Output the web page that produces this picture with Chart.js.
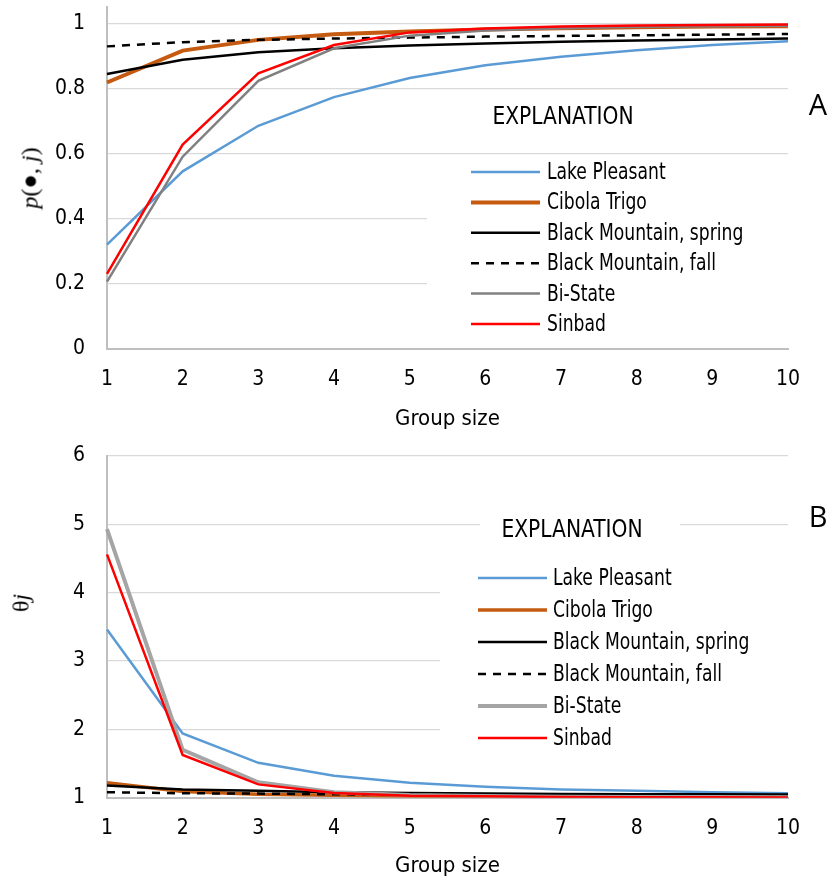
<!DOCTYPE html>
<html>
<head>
<meta charset="utf-8">
<title>Group size</title>
<script src="https://cdn.jsdelivr.net/npm/chart.js@4"></script>
<style>
    body { margin: 0; background: #fff; }
    #wrap { position: relative; width: 832px; height: 884px; }
    canvas { position: absolute; left: 0; }
    .y-title {
        position: absolute;
        transform: translate(-50%, -50%) rotate(-90deg);
        white-space: nowrap;
        font-family: 'Liberation Serif', 'DejaVu Serif', serif;
        font-size: 24px;
        color: #000;
    }
    .y-title i { font-style: italic; }
    .panel {
        position: absolute;
        transform: translate(-50%, -50%);
        font-family: 'Open Sans', 'Noto Sans', sans-serif;
        font-size: 29px;
        color: #000;
    }
</style>
</head>
<body>
<div id="wrap">
    <canvas id="chartA" width="832" height="442" style="top:0"></canvas>
    <canvas id="chartB" width="832" height="442" style="top:442px"></canvas>
    <div class="y-title" style="left:30px; top:178px"><i>p</i>(●, <i>j</i>)</div>
    <div class="y-title" style="left:21px; top:603px">θ<i>j</i></div>
    <div class="panel" style="left:818px; top:103px">A</div>
    <div class="panel" style="left:818px; top:515px">B</div>
</div>
<script>
const groupSizes = ['1', '2', '3', '4', '5', '6', '7', '8', '9', '10'];
const siteNames = ['Lake Pleasant', 'Cibola Trigo', 'Black Mountain, spring', 'Black Mountain, fall', 'Bi-State', 'Sinbad'];

// p(., j) by group size
const pLakePleasant = [0.32, 0.545, 0.685, 0.773, 0.832, 0.871, 0.897, 0.917, 0.933, 0.945];
const pCibolaTrigo = [0.818, 0.916, 0.949, 0.966, 0.975, 0.981, 0.985, 0.988, 0.990, 0.991];
const pBlackMtnSpring = [0.844, 0.888, 0.911, 0.923, 0.932, 0.938, 0.943, 0.947, 0.950, 0.953];
const pBlackMtnFall = [0.929, 0.942, 0.949, 0.953, 0.956, 0.959, 0.961, 0.963, 0.965, 0.967];
const pBiState = [0.206, 0.590, 0.823, 0.923, 0.962, 0.978, 0.985, 0.989, 0.991, 0.992];
const pSinbad = [0.230, 0.627, 0.846, 0.933, 0.972, 0.984, 0.990, 0.993, 0.995, 0.996];

// theta j by group size
const thetaLakePleasant = [3.46, 1.94, 1.51, 1.32, 1.22, 1.16, 1.12, 1.10, 1.08, 1.065];
const thetaCibolaTrigo = [1.22, 1.09, 1.05, 1.035, 1.025, 1.02, 1.015, 1.012, 1.01, 1.009];
const thetaBlackMtnSpring = [1.18, 1.12, 1.10, 1.08, 1.07, 1.06, 1.055, 1.05, 1.05, 1.045];
const thetaBlackMtnFall = [1.08, 1.065, 1.06, 1.05, 1.045, 1.04, 1.035, 1.035, 1.03, 1.03];
const thetaBiState = [4.93, 1.70, 1.225, 1.08, 1.04, 1.025, 1.015, 1.01, 1.01, 1.008];
const thetaSinbad = [4.56, 1.625, 1.195, 1.07, 1.03, 1.02, 1.01, 1.007, 1.005, 1.004];

const yTicksA = [0, 0.2, 0.4, 0.6, 0.8, 1];
const yTicksB = [1, 2, 3, 4, 5, 6];

const narrowFont = "'Liberation Sans Narrow', 'DejaVu Sans Condensed', Roboto, sans-serif";
const gridGrey = '#d9d9d9';
const axisGrey = '#bfbfbf';

// line styles per site: colour, width, dash
function siteStyles(panel) {
    return [
        { color: '#5b9bd5', width: 2.5, dash: [] },
        { color: '#c55a11', width: panel === 'A' ? 4 : 3.5, dash: [] },
        { color: '#000000', width: 2.5, dash: [] },
        { color: '#000000', width: 2.5, dash: [8, 7] },
        { color: panel === 'A' ? '#808080' : '#a5a5a5', width: panel === 'A' ? 2.5 : 4, dash: [] },
        { color: '#ff0000', width: 2.5, dash: [] }
    ];
}

function buildDatasets(series, panel) {
    const styles = siteStyles(panel);
    return series.map((values, i) => ({
        label: siteNames[i],
        data: values,
        borderColor: styles[i].color,
        backgroundColor: styles[i].color,
        borderWidth: styles[i].width,
        borderDash: styles[i].dash,
        pointRadius: 0,
        tension: 0,
        fill: false,
        // later series drawn on top
        order: series.length - 1 - i
    }));
}

// text squeezed horizontally to get a condensed face
function narrowText(ctx, text, x, y, squeeze) {
    ctx.save();
    ctx.translate(x, y);
    ctx.scale(squeeze, 1);
    ctx.fillText(text, 0, 0);
    ctx.restore();
}

// "EXPLANATION" block drawn inside the plot, masking the gridlines behind it
const explanationPlugin = {
    id: 'explanation',
    beforeDatasetsDraw(chart, args, opts) {
        const ctx = chart.ctx;
        ctx.save();
        ctx.fillStyle = '#fff';
        opts.masks.forEach(r => ctx.fillRect(r[0], r[1], r[2], r[3]));

        ctx.fillStyle = '#000';
        ctx.textBaseline = 'middle';
        ctx.textAlign = 'center';
        ctx.font = '25px ' + narrowFont;
        narrowText(ctx, 'EXPLANATION', opts.titleX, opts.titleY, 0.9);

        ctx.textAlign = 'left';
        ctx.font = '23px ' + narrowFont;
        chart.data.datasets.forEach((ds, i) => {
            const y = opts.rowY + i * opts.rowGap;
            ctx.beginPath();
            ctx.strokeStyle = ds.borderColor;
            ctx.lineWidth = ds.borderWidth;
            ctx.setLineDash(ds.borderDash || []);
            ctx.moveTo(opts.swatchX0, y);
            ctx.lineTo(opts.swatchX1, y);
            ctx.stroke();
            narrowText(ctx, ds.label, opts.textX, y + 1, 0.83);
        });
        ctx.restore();
    }
};

function makeChart(canvasId, series, panel, yMin, yMax, yTicks, padTop, padBottom, xHeight, legendOpts) {
    const ctx = document.getElementById(canvasId).getContext('2d');
    return new Chart(ctx, {
        type: 'line',
        data: {
            labels: groupSizes,
            datasets: buildDatasets(series, panel)
        },
        options: {
            responsive: false,
            animation: false,
            layout: {
                padding: { top: padTop, bottom: padBottom, left: 0, right: 44 }
            },
            plugins: {
                legend: { display: false },
                tooltip: { enabled: false },
                explanation: legendOpts
            },
            scales: {
                x: {
                    grid: { display: false, drawTicks: false },
                    border: { display: true, color: axisGrey, width: 2 },
                    ticks: {
                        color: '#000',
                        padding: 18,
                        maxRotation: 0,
                        font: { family: narrowFont, size: 21 }
                    },
                    title: {
                        display: true,
                        text: 'Group size',
                        color: '#000',
                        padding: { top: 15, bottom: 0 },
                        font: { family: narrowFont, size: 22 }
                    },
                    afterFit: (scale) => {
                        scale.height = xHeight;
                        scale.paddingLeft = 0;
                        scale.paddingRight = 0;
                    }
                },
                y: {
                    min: yMin,
                    max: yMax,
                    grid: { color: gridGrey, lineWidth: 1.3, drawTicks: false },
                    border: { display: true, color: axisGrey, width: 2 },
                    afterBuildTicks: (scale) => {
                        scale.ticks = yTicks.map(v => ({ value: v }));
                    },
                    afterFit: (scale) => {
                        scale.width = 107;
                        scale.paddingTop = 0;
                        scale.paddingBottom = 0;
                    },
                    ticks: {
                        color: '#000',
                        padding: 22,
                        font: { family: narrowFont, size: 21 },
                        callback: (value) => String(Number(value.toFixed(1)))
                    }
                }
            }
        },
        plugins: [explanationPlugin]
    });
}

document.addEventListener('DOMContentLoaded', () => {
    makeChart('chartA',
        [pLakePleasant, pCibolaTrigo, pBlackMtnSpring, pBlackMtnFall, pBiState, pSinbad],
        'A', 0, 1.05, yTicksA, 7, 9.8, 83.5,
        {
            masks: [[427, 162, 373, 178]],
            titleX: 563, titleY: 117,
            rowY: 172, rowGap: 30.4,
            swatchX0: 471, swatchX1: 540, textX: 547
        });

    makeChart('chartB',
        [thetaLakePleasant, thetaCibolaTrigo, thetaBlackMtnSpring, thetaBlackMtnFall, thetaBiState, thetaSinbad],
        'B', 1, 6, yTicksB, 14, 4.3, 82,
        {
            masks: [[480, 70, 200, 34], [440, 118, 360, 194]],
            titleX: 572, titleY: 88,
            rowY: 136, rowGap: 32,
            swatchX0: 478, swatchX1: 547, textX: 553
        });
});
</script>
</body>
</html>
